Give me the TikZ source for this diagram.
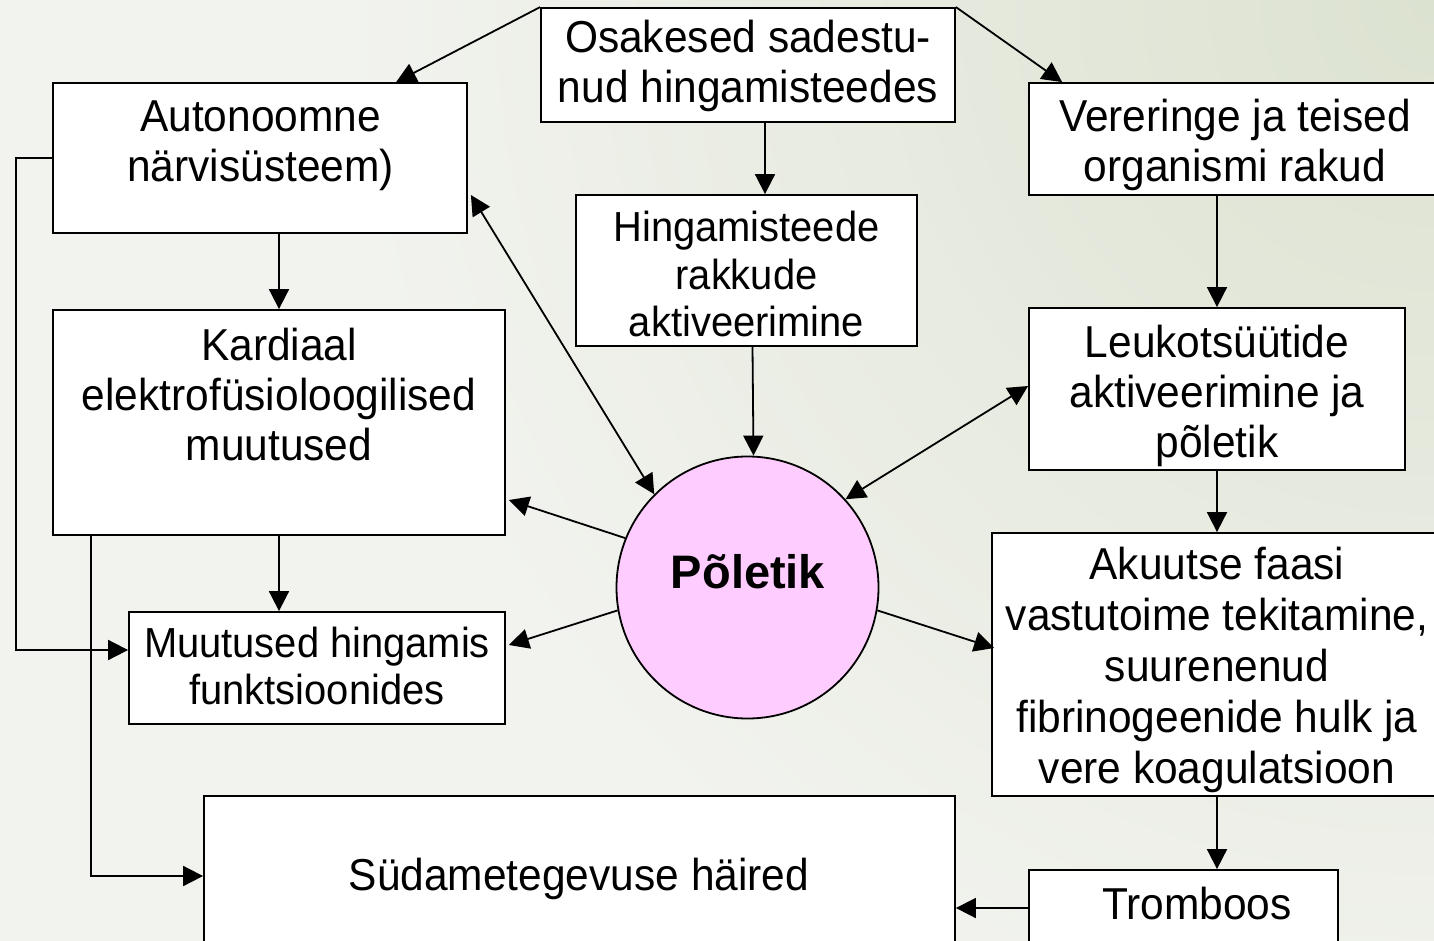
\documentclass[tikz,border=0pt]{standalone}
\usepackage{fontspec}
\setmainfont{Liberation Sans}[FakeStretch=0.95]
\newfontfamily\boldfont{Liberation Sans}
\usetikzlibrary{arrows.meta,calc}
\definecolor{bgA}{HTML}{F2F3EF}
\definecolor{bgB}{HTML}{DCE2D0}
\definecolor{pinkfill}{HTML}{FFCCFF}
\tikzset{
 box/.style={draw=black, fill=white, line width=1.8pt, rectangle, inner sep=0pt},
 txt/.style={align=center, inner sep=0pt, font=\fontsize{44.7}{50}\selectfont},
 smalltxt/.style={align=center, inner sep=0pt, font=\fontsize{42}{47.5}\selectfont},
 arr/.style={line width=1.8pt, -{Triangle[length=20pt,width=20pt]}},
 darr/.style={line width=1.8pt, {Triangle[length=20pt,width=20pt]}-{Triangle[length=20pt,width=20pt]}},
}
\begin{document}
\begin{tikzpicture}[x=1pt,y=-1pt]
\useasboundingbox (0,0) rectangle (1434,941);
\fill[bgA] (0,0) rectangle (1434,941);
\begin{scope}
\clip (0,0) rectangle (1434,941);
\shade[inner color=bgB, outer color=bgA] (1434,0) circle (1100pt);
\end{scope}

% boxes
\node[box, minimum width=414pt, minimum height=114pt] (osa) at (748,65) {};
\node[box, minimum width=414pt, minimum height=150pt] (aut) at (260,158) {};
\node[box, minimum width=416pt, minimum height=112pt] (ver) at (1237,139) {};
\node[box, minimum width=341pt, minimum height=151pt] (hin) at (746.5,270.5) {};
\node[box, minimum width=452pt, minimum height=225pt] (kar) at (279,422.5) {};
\node[box, minimum width=376pt, minimum height=162pt] (leu) at (1217,389) {};
\node[box, minimum width=376pt, minimum height=112pt] (muu) at (317,668) {};
\node[box, minimum width=450pt, minimum height=263pt] (aku) at (1217,664.5) {};
\node[box, minimum width=751pt, minimum height=160pt] (sud) at (579.5,876) {};
\node[box, minimum width=309pt, minimum height=90pt] (tro) at (1183.5,915) {};
\node[circle, draw=black, fill=pinkfill, line width=1.8pt, minimum size=262pt, inner sep=0pt] (pol) at (747.5,587.5) {};

% texts
\node[txt] (osa-t) at (748,66) {Osakesed sadestu-\\nud hingamisteedes};
\node[txt] (aut-t) at (260.5,145.5) {Autonoomne\\närvisüsteem)};
\node[txt] (ver-t) at (1235,145) {Vereringe ja teised\\organismi rakud};
\node[smalltxt] (hin-t) at (746.5,274) {Hingamisteede\\rakkude\\aktiveerimine};
\node[txt] (kar-t) at (279,395) {Kardiaal\\elektrofüsioloogilised\\muutused};
\node[txt] (leu-t) at (1217,396) {Leukotsüütide\\aktiveerimine ja\\põletik};
\node[smalltxt] (muu-t) at (317,666) {Muutused hingamis\\funktsioonides};
\node[txt, font=\fontsize{44.7}{51}\selectfont] (aku-t) at (1217,670) {Akuutse faasi\\vastutoime tekitamine,\\suurenenud\\fibrinogeenide hulk ja\\vere koagulatsioon};
\node[txt] (sud-t) at (579,879) {Südametegevuse häired};
\node[txt] (tro-t) at (1197,904) {Tromboos};
\node[inner sep=0pt, font=\boldfont\bfseries\fontsize{47}{50}\selectfont] (pol-t) at (748,572) {Põletik};

% connectors
\draw[arr] (osa.north west) -- ($(aut.north west)+(344,0)$);
\draw[arr] (osa.north east) -- ($(ver.north west)+(34,0)$);
\draw[arr] ($(osa.south)+(17,0)$) -- ($(osa.south |- hin.north)+(17,0)$);
\draw[arr] ($(hin.south)+(6,0)$) -- ($(pol.north)+(6,0)$);
\draw[arr] (ver.south -| leu.north) -- (leu.north);
\draw[arr] (leu.south) -- (leu.south |- aku.north);
\draw[arr] (aku.south) -- (aku.south |- tro.north);
\draw[arr] ($(tro.west)+(0,-7)$) -- ($(tro.west -| sud.east)+(0,-7)$);
\draw[arr] (kar.north |- aut.south) -- (kar.north);
\draw[arr] (kar.south) -- (kar.south |- muu.north);
\draw[arr] (aut.west) -- ++(-36,0) |- ($(muu.west)+(0,-18)$);
\draw[arr] ($(kar.south west)+(39,0)$) |- (sud.west);
\draw[darr] (pol.135) -- ($(aut.east)+(3,37)$);
\draw[arr] (pol.158) -- ($(kar.east)+(3,77.5)$);
\draw[arr] (pol.190) -- ($(muu.east)+(3,-23)$);
\draw[darr] (pol.42) -- ($(leu.west)+(0,-3)$);
\draw[arr] (pol.-10.5) -- ($(aku.west)+(3,-16.5)$);
\end{tikzpicture}
\end{document}
